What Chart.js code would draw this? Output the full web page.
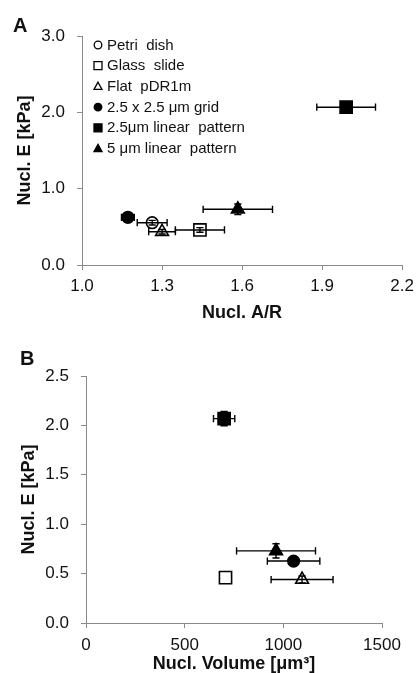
<!DOCTYPE html>
<html>
<head>
<meta charset="utf-8">
<script src="https://cdn.jsdelivr.net/npm/chart.js@4.4.1/dist/chart.umd.min.js"></script>
<style>
  html, body { margin: 0; padding: 0; background: #fff; width: 420px; height: 673px; overflow: hidden; }
  canvas { position: absolute; left: 0; }
  #cA { top: 0; }
  #cB { top: 330px; }
  .panel { position: absolute; font: bold 20px "Liberation Sans", Arial, sans-serif; line-height: 20px; color: #111; }
</style>
</head>
<body>
<canvas id="cA" width="420" height="330"></canvas>
<canvas id="cB" width="420" height="343"></canvas>
<div class="panel" style="left:13px;top:15px;">A</div>
<div class="panel" style="left:20px;top:348px;">B</div>
<script>
// ---- data ----
const series = ['Petri  dish', 'Glass  slide', 'Flat  pDR1m', '2.5 x 2.5 \u03bcm grid', '2.5\u03bcm linear  pattern', '5 \u03bcm linear  pattern'];
const markerShape = ['circle', 'rect', 'triangle', 'circle', 'rect', 'triangle'];
const markerFilled = [false, false, false, true, true, true];

// Panel A: nuclear aspect ratio vs. nuclear E
const aspectRatio    = [1.263, 1.442, 1.300, 1.172, 1.990, 1.584];
const aspectRatioErr = [0.056, 0.092, 0.050, 0.024, 0.110, 0.130];
const stiffnessA     = [0.554, 0.459, 0.436, 0.625, 2.067, 0.730];
const stiffnessErrA  = [0.030, 0.030, 0.030, 0.030, 0.070, 0.070];

// Panel B: nuclear volume vs. nuclear E
const volume         = [null, 707, 1095, 1052, 700, 963];
const volumeErr      = [0, 0, 157, 133, 54, 200];
const stiffnessB     = [null, 0.459, 0.440, 0.627, 2.069, 0.730];
const stiffnessErrB  = [0, 0, 0.035, 0, 0.073, 0.072];

// tick labels
const ticksAX = [1.0, 1.3, 1.6, 1.9, 2.2];
const ticksAY = [0.0, 1.0, 2.0, 3.0];
const ticksBX = [0, 500, 1000, 1500];
const ticksBY = [0.0, 0.5, 1.0, 1.5, 2.0, 2.5];

// ---- styling ----
const FONT = '"Liberation Sans", Arial, sans-serif';
const AXIS = '#8a8a8a';
const INK = '#111';
const markerRadius = { circle: 5.8, rect: 8.6, triangle: 7.4 };

function buildDatasets(xs, xe, ys, ye) {
  return series.map((name, i) => ({
    label: name,
    data: (xs[i] == null) ? [] : [{ x: xs[i], y: ys[i], xErr: xe[i], yErr: ye[i] }],
    pointStyle: markerShape[i],
    pointRadius: markerRadius[markerShape[i]],
    pointBackgroundColor: markerFilled[i] ? '#000' : 'rgba(255,255,255,0)',
    pointBorderColor: '#000',
    pointBorderWidth: 1.6,
    showLine: false
  }));
}

const errorBars = {
  id: 'errorBars',
  afterDatasetsDraw(chart) {
    const ctx = chart.ctx;
    const xs = chart.scales.x, ys = chart.scales.y;
    const cap = 3.6;
    ctx.save();
    ctx.strokeStyle = '#000';
    ctx.lineWidth = 1.4;
    chart.data.datasets.forEach(ds => {
      ds.data.forEach(p => {
        const px = xs.getPixelForValue(p.x), py = ys.getPixelForValue(p.y);
        ctx.beginPath();
        if (p.xErr) {
          const x1 = xs.getPixelForValue(p.x - p.xErr), x2 = xs.getPixelForValue(p.x + p.xErr);
          ctx.moveTo(x1, py); ctx.lineTo(x2, py);
          ctx.moveTo(x1, py - cap); ctx.lineTo(x1, py + cap);
          ctx.moveTo(x2, py - cap); ctx.lineTo(x2, py + cap);
        }
        if (p.yErr) {
          const y1 = ys.getPixelForValue(p.y - p.yErr), y2 = ys.getPixelForValue(p.y + p.yErr);
          ctx.moveTo(px, y1); ctx.lineTo(px, y2);
          ctx.moveTo(px - cap, y1); ctx.lineTo(px + cap, y1);
          ctx.moveTo(px - cap, y2); ctx.lineTo(px + cap, y2);
        }
        ctx.stroke();
      });
    });
    ctx.restore();
  }
};

function drawMarker(ctx, shape, filled, x, y, r) {
  ctx.beginPath();
  if (shape === 'circle') {
    ctx.arc(x, y, r, 0, Math.PI * 2);
  } else if (shape === 'rect') {
    ctx.rect(x - r, y - r, 2 * r, 2 * r);
  } else {
    ctx.moveTo(x, y - r * 1.05);
    ctx.lineTo(x + r, y + r * 0.75);
    ctx.lineTo(x - r, y + r * 0.75);
    ctx.closePath();
  }
  if (filled) { ctx.fillStyle = '#000'; ctx.fill(); }
  ctx.lineWidth = 1.3;
  ctx.strokeStyle = '#000';
  ctx.stroke();
}

const innerLegend = {
  id: 'innerLegend',
  afterDraw(chart) {
    const ctx = chart.ctx;
    const a = chart.chartArea;
    const mx = a.left + 16, tx = a.left + 25;
    const y0 = a.top + 9, dy = 20.7;
    ctx.save();
    ctx.font = '15px ' + FONT;
    ctx.fillStyle = INK;
    ctx.textBaseline = 'middle';
    ctx.textAlign = 'left';
    chart.data.datasets.forEach((ds, i) => {
      const y = y0 + i * dy;
      drawMarker(ctx, markerShape[i], markerFilled[i], mx, y, markerShape[i] === 'circle' ? 3.8 : 4);
      ctx.fillStyle = INK;
      ctx.fillText(ds.label, tx, y + 0.5);
    });
    ctx.restore();
  }
};

function axis(opts) {
  return {
    type: 'linear',
    min: opts.min, max: opts.max,
    afterBuildTicks: s => { s.ticks = opts.ticks.map(v => ({ value: v })); },
    afterFit: s => { if (opts.width) s.width = opts.width; if (opts.height) s.height = opts.height; },
    grid: { display: true, drawOnChartArea: false, drawTicks: true, tickLength: 5, color: AXIS, lineWidth: 1 },
    border: { display: true, color: AXIS, width: 1 },
    ticks: {
      padding: opts.padding,
      color: INK,
      font: { family: FONT, size: 17 },
      callback: v => opts.fmt(v),
      autoSkip: false,
      maxRotation: 0
    },
    title: {
      display: true,
      text: opts.title,
      color: INK,
      font: { family: FONT, size: 18, weight: 'bold', lineHeight: 1 },
      padding: opts.titlePad
    }
  };
}

function makeChart(id, datasets, cfg) {
  return new Chart(document.getElementById(id), {
    type: 'scatter',
    data: { datasets },
    options: {
      responsive: false,
      animation: false,
      devicePixelRatio: 1,
      layout: { padding: cfg.layoutPad },
      plugins: { legend: { display: false }, tooltip: { enabled: false } },
      scales: { x: axis(cfg.x), y: axis(cfg.y) }
    },
    plugins: cfg.plugins
  });
}

makeChart('cA', buildDatasets(aspectRatio, aspectRatioErr, stiffnessA, stiffnessErrA), {
  layoutPad: { top: 36, right: 14, left: 0, bottom: 0 },
  x: { min: 1.0, max: 2.2, ticks: ticksAX, fmt: v => v.toFixed(1), height: 65, padding: 6, title: 'Nucl. A/R', titlePad: { top: 0, bottom: 8 } },
  y: { min: 0, max: 3, ticks: ticksAY, fmt: v => v.toFixed(1), width: 82, padding: 12, title: 'Nucl. E [kPa]', titlePad: { top: 16, bottom: 0 } },
  plugins: [errorBars, innerLegend]
});

makeChart('cB', buildDatasets(volume, volumeErr, stiffnessB, stiffnessErrB), {
  layoutPad: { top: 46, right: 38, left: 0, bottom: 0 },
  x: { min: 0, max: 1500, ticks: ticksBX, fmt: v => String(v), height: 50, padding: 7, title: 'Nucl. Volume [\u03bcm\u00b3]', titlePad: { top: 0, bottom: 0 } },
  y: { min: 0, max: 2.5, ticks: ticksBY, fmt: v => v.toFixed(1), width: 86, padding: 12, title: 'Nucl. E [kPa]', titlePad: { top: 20, bottom: 0 } },
  plugins: [errorBars]
});
</script>
</body>
</html>
